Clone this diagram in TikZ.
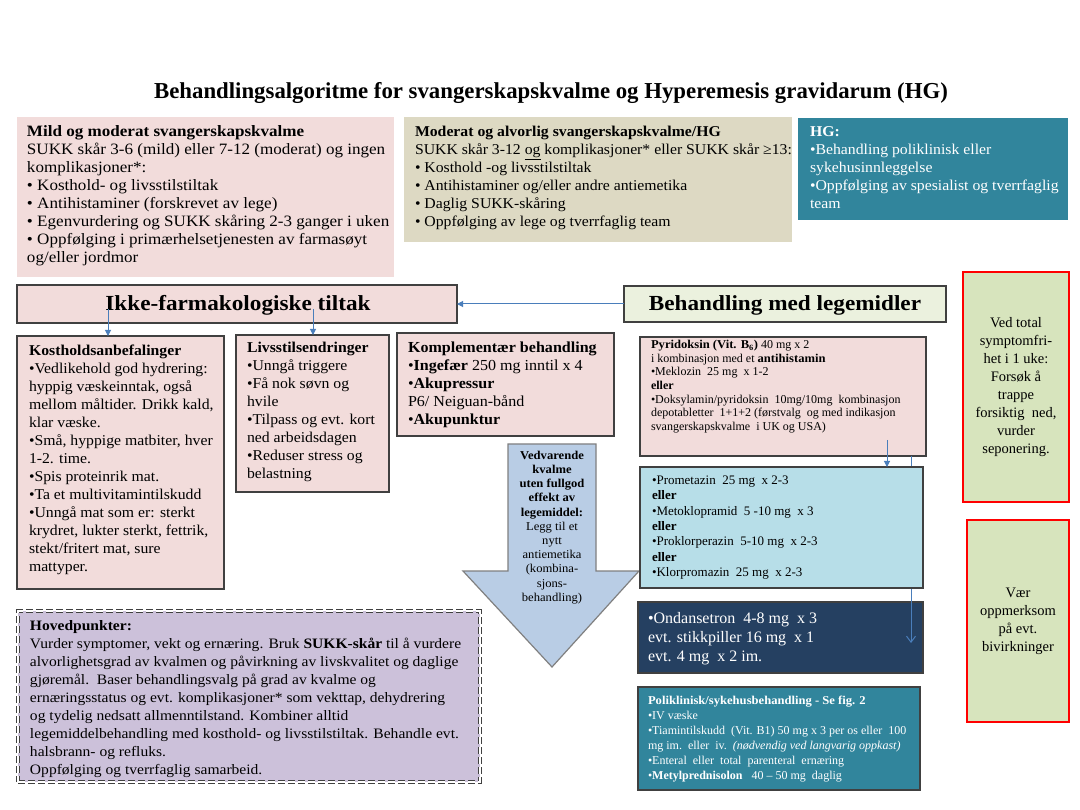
\documentclass[tikz,border=0pt]{standalone}
\usepackage{fontspec}
\setmainfont{Liberation Serif}
\newfontfamily\cam[FakeStretch=1.05]{Liberation Serif}
\newfontfamily\camw[FakeStretch=1.08]{Liberation Serif}
\usetikzlibrary{arrows.meta,fit,calc}
\definecolor{pinkc}{HTML}{F2DCDB}
\definecolor{tanc}{HTML}{DDD9C3}
\definecolor{tealc}{HTML}{31859C}
\definecolor{lgreen}{HTML}{EBF1DE}
\definecolor{lblue}{HTML}{B7DEE8}
\definecolor{navyc}{HTML}{254061}
\definecolor{greenc}{HTML}{D7E4BD}
\definecolor{lavc}{HTML}{CCC1DA}
\definecolor{arrfill}{HTML}{B9CDE5}
\definecolor{arrblue}{HTML}{4A7EBB}
\definecolor{edgec}{HTML}{404040}
\newcommand\fsz[2]{\fontsize{#1}{#2}\selectfont}
\tikzset{
  box/.style={inner sep=0pt, outer sep=0pt},
  framed/.style={box, draw=edgec, line width=1.2pt},
  redframe/.style={box, draw=red, line width=1.6pt, fill=greenc},
  txt/.style={anchor=north west, inner sep=0pt, outer sep=0pt, align=left},
  ctxt/.style={anchor=center, inner sep=0pt, outer sep=0pt, align=center},
  arr/.style={draw=arrblue, line width=1pt, -{Triangle[length=6pt,width=6pt]}},
  openarr/.style={draw=arrblue, line width=1pt, -{Straight Barb[length=6pt,width=9pt]}}
}
\begin{document}
\begin{tikzpicture}[x=1pt,y=-1pt]
\useasboundingbox[fill=white] (0,0) rectangle (1080,810);

% title
\node[anchor=base, inner sep=0pt, font=\bfseries\fsz{22.8}{26}] (title) at (551,99)
  {Behandlingsalgoritme for svangerskapskvalme og Hyperemesis gravidarum (HG)};

% top boxes
\node[box, fill=pinkc, fit={(17,117)(394,277)}] (mild) {};
\node[txt, font=\camw\fsz{15.8}{18}] (mildt) at (27,126) {\textbf{Mild og moderat svangerskapskvalme}\\
SUKK skår 3-6 (mild) eller 7-12 (moderat) og ingen\\
komplikasjoner*:\\
• Kosthold- og livsstilstiltak\\
• Antihistaminer (forskrevet av lege)\\
• Egenvurdering og SUKK skåring 2-3 ganger i uken\\
• Oppfølging i primærhelsetjenesten av farmasøyt\\
og/eller jordmor};

\node[box, fill=tanc, fit={(404,117)(792,242)}] (mod) {};
\node[txt, font=\cam\fsz{15}{18}] (modt) at (415,126) {\textbf{Moderat og alvorlig svangerskapskvalme/HG}\\
SUKK skår 3-12 \underline{og} komplikasjoner* eller SUKK skår ≥13:\\
• Kosthold -og livsstilstiltak\\
• Antihistaminer og/eller andre antiemetika\\
• Daglig SUKK-skåring\\
• Oppfølging av lege og tverrfaglig team};

\node[box, fill=tealc, fit={(798,118)(1068,220)}] (hg) {};
\node[txt, text=white, font=\cam\fsz{15}{18}] (hgt) at (810,127) {\textbf{HG:}\\
•Behandling poliklinisk eller\\
sykehusinnleggelse\\
•Oppfølging av spesialist og tverrfaglig\\
team};

% headers
\node[framed, fill=pinkc, fit={(17,285)(457,323)}] (ikke) {};
\node[ctxt, font=\camw\bfseries\fsz{21.5}{24}] (ikket) at (238,305) {Ikke-farmakologiske tiltak};
\node[framed, fill=lgreen, fit={(624,286)(946,322)}] (beh) {};
\node[ctxt, font=\camw\bfseries\fsz{21.5}{24}] (beht) at (785,305) {Behandling med legemidler};
\draw[arr] (beh.west) -- (ikke.east);

% non-pharmacological boxes
\node[framed, fill=pinkc, fit={(17,336)(224,589)}] (kost) {};
\node[txt, font=\cam\fsz{15}{18}] (kostt) at (29,345) {\textbf{Kostholdsanbefalinger}\\
•Vedlikehold god hydrering:\\
hyppig væskeinntak, også\\
mellom måltider. Drikk kald,\\
klar væske.\\
•Små, hyppige matbiter, hver\\
1-2. time.\\
•Spis proteinrik mat.\\
•Ta et multivitamintilskudd\\
•Unngå mat som er: sterkt\\
krydret, lukter sterkt, fettrik,\\
stekt/fritert mat, sure\\
mattyper.};

\node[framed, fill=pinkc, fit={(236,335)(389,492)}] (livs) {};
\node[txt, font=\cam\fsz{15}{18}] (livst) at (247,342) {\textbf{Livsstilsendringer}\\
•Unngå triggere\\
•Få nok søvn og\\
hvile\\
•Tilpass og evt. kort\\
ned arbeidsdagen\\
•Reduser stress og\\
belastning};

\node[framed, fill=pinkc, fit={(397,333)(614,436)}] (kompl) {};
\node[txt, font=\cam\fsz{15.3}{18}] (komplt) at (408,342) {\textbf{Komplementær behandling}\\
•\textbf{Ingefær} 250 mg inntil x 4\\
•\textbf{Akupressur}\\
P6/ Neiguan-bånd\\
•\textbf{Akupunktur}};

\coordinate (ik1) at (108,309);
\coordinate (ik2) at (313,309);
\draw[arr] (ik1) -- (ik1 |- kost.north);
\draw[arr] (ik2) -- (ik2 |- livs.north);

% big down arrow
\draw[fill=arrfill, draw=gray, line width=1.2pt] (508,444) -- (596,444) -- (596,571) -- (639,571)
  -- (552,667) -- (463,571) -- (508,571) -- cycle;
\node[ctxt, font=\cam\fsz{12}{14.2}, anchor=north] (arrt) at (552,451) {\textbf{Vedvarende}\\
\textbf{kvalme}\\
\textbf{uten fullgod}\\
\textbf{effekt av}\\
\textbf{legemiddel:}\\
Legg til et\\
nytt\\
antiemetika\\
(kombina-\\
sjons-\\
behandling)};

% pharmacological boxes
\node[framed, fill=pinkc, fit={(640,337)(926,456)}] (pyr) {};
\node[txt, font=\fsz{12}{13.7}] (pyrt) at (651,340) {{\cam\bfseries Pyridoksin (Vit. B\textsubscript{6})} 40 mg x 2\\
i kombinasjon med et {\cam\bfseries antihistamin}\\
•Meklozin\ \ 25 mg\ \ x 1-2\\
\textbf{eller}\\
•Doksylamin/pyridoksin\ \ 10mg/10mg\ \ kombinasjon\\
depotabletter\ \ 1+1+2 (førstvalg\ \ og med indikasjon\\
svangerskapskvalme\ \ i UK og USA)};

\node[framed, fill=navyc, fit={(638,602)(923,673)}] (ond) {};
\node[txt, text=white, font=\fsz{16}{19}] (ondt) at (648,612) {•Ondansetron\ \ 4-8 mg\ \ x 3\\
evt. stikkpiller 16 mg\ \ x 1\\
evt. 4 mg\ \ x 2 im.};

\coordinate (py2) at (911,456);
\coordinate (py2end) at (911,643);
\draw[openarr] (py2) -- (py2end);

\node[framed, fill=lblue, fit={(640,467)(923,588)}] (prom) {};
\node[txt, font=\fsz{13}{15.3}] (promt) at (652,476) {•Prometazin\ \ 25 mg\ \ x 2-3\\
\textbf{eller}\\
•Metoklopramid\ \ 5 -10 mg\ \ x 3\\
\textbf{eller}\\
•Proklorperazin\ \ 5-10 mg\ \ x 2-3\\
\textbf{eller}\\
•Klorpromazin\ \ 25 mg\ \ x 2-3};

\coordinate (py1) at (887,440);
\draw[arr] (py1) -- (py1 |- prom.north);

\node[framed, fill=tealc, fit={(638,687)(920,790)}] (poli) {};
\node[txt, text=white, font=\fsz{12}{15}] (polit) at (648,696) {{\cam\bfseries Poliklinisk/sykehusbehandling - Se fig. 2}\\
•IV væske\\
•Tiamintilskudd\ \ (Vit. B1) 50 mg x 3 per os eller\ \ 100\\
mg im.\ \ eller\ \ iv.\ \ \textit{(nødvendig ved langvarig oppkast)}\\
•Enteral\ \ eller\ \ total\ \ parenteral\ \ ernæring\\
•\textbf{Metylprednisolon}\ \ \ 40 – 50 mg\ \ daglig};

% right boxes
\node[redframe, fit={(963,272)(1069,502)}] (ved) {};
\node[ctxt, font=\fsz{14.5}{18}] (vedt) at (ved.center) {Ved total\\
symptomfri-\\
het i 1 uke:\\
Forsøk å\\
trappe\\
forsiktig\ \ ned,\\
vurder\\
seponering.};

\node[redframe, fit={(967,520)(1069,722)}] (vaer) {};
\node[ctxt, font=\fsz{14.5}{18}] (vaert) at (vaer.center) {Vær\\
oppmerksom\\
på evt.\\
bivirkninger};

% key points
\node[box, fill=lavc, draw=edgec, line width=1.4pt, double=white, double distance=1.6pt,
  dash pattern=on 7pt off 3pt, fit={(18,611)(480,782)}] (hoved) {};
\node[txt, font=\camw\fsz{14.4}{17.9}] (hovedt) at (30,621) {\textbf{Hovedpunkter:}\\
Vurder symptomer, vekt og ernæring. Bruk \textbf{SUKK-skår} til å vurdere\\
alvorlighetsgrad av kvalmen og påvirkning av livskvalitet og daglige\\
gjøremål.\ \ Baser behandlingsvalg på grad av kvalme og\\
ernæringsstatus og evt. komplikasjoner* som vekttap, dehydrering\\
og tydelig nedsatt allmenntilstand. Kombiner alltid\\
legemiddelbehandling med kosthold- og livsstilstiltak. Behandle evt.\\
halsbrann- og refluks.\\
Oppfølging og tverrfaglig samarbeid.};
\end{tikzpicture}
\end{document}
